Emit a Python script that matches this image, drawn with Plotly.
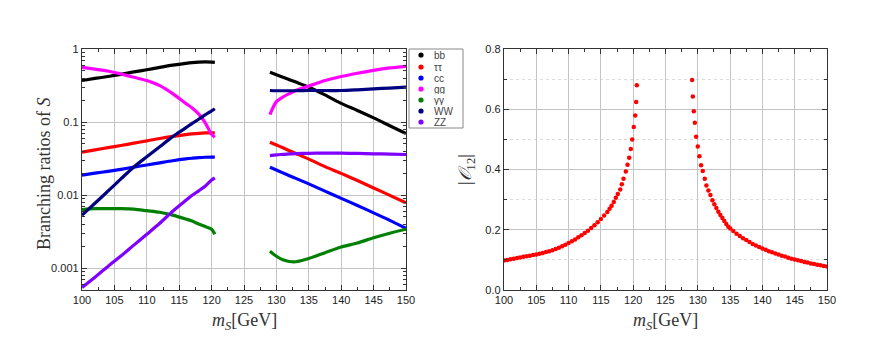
import plotly.graph_objects as go

W, H = 872, 341

# ---------------- data: branching ratios (left panel) ----------------
x_lo = [100, 102, 104, 106, 108, 110, 112, 114, 116, 117, 118, 119, 120, 120.5]
x_hi = [129, 130, 131, 132, 133, 135, 137.5, 140, 142.5, 145, 147.5, 150]

br_names = ["bb", "ττ", "cc", "gg", "γγ", "WW", "ZZ"]
br_colors = ["#000000", "#ff0000", "#0000ff", "#ff00ff", "#008000", "#000080", "#8000ff"]

bb_lo = [0.37, 0.395, 0.42, 0.45, 0.485, 0.52, 0.56, 0.60, 0.635, 0.65, 0.66, 0.665, 0.66, 0.655]
tt_lo = [0.0386, 0.0415, 0.0445, 0.0477, 0.0513, 0.0552, 0.0595, 0.0635, 0.0672, 0.0688, 0.070, 0.0708, 0.071, 0.071]
cc_lo = [0.0187, 0.0199, 0.0211, 0.0225, 0.0241, 0.0258, 0.0276, 0.0295, 0.0312, 0.0319, 0.0325, 0.0329, 0.033, 0.033]
gg_lo = [0.56, 0.53, 0.50, 0.455, 0.41, 0.37, 0.315, 0.245, 0.18, 0.156, 0.129, 0.098, 0.068, 0.062]
yy_lo = [0.0063, 0.0065, 0.0065, 0.0065, 0.0064, 0.0061, 0.0058, 0.0053, 0.0047, 0.0044, 0.0040, 0.0037, 0.0034, 0.0029]
ww_lo = [0.0053, 0.0077, 0.0113, 0.0166, 0.0242, 0.0334, 0.0459, 0.063, 0.083, 0.096, 0.109, 0.125, 0.142, 0.152]
zz_lo = [0.00054, 0.00075, 0.00105, 0.00146, 0.00206, 0.0029, 0.0041, 0.0060, 0.0084, 0.0099, 0.0114, 0.0132, 0.0160, 0.0172]

bb_hi = [0.48, 0.445, 0.41, 0.38, 0.352, 0.30, 0.235, 0.18, 0.144, 0.114, 0.089, 0.0695]
tt_hi = [0.0529, 0.0485, 0.0443, 0.0405, 0.037, 0.031, 0.0245, 0.0198, 0.0158, 0.0125, 0.0099, 0.0078]
cc_hi = [0.024, 0.022, 0.0201, 0.0184, 0.0169, 0.0142, 0.0113, 0.0090, 0.0072, 0.0057, 0.0045, 0.0035]
gg_hi = [0.126, 0.19, 0.22, 0.245, 0.27, 0.31, 0.37, 0.42, 0.465, 0.51, 0.55, 0.58]
yy_hi = [0.0017, 0.00145, 0.0013, 0.00123, 0.00122, 0.00135, 0.00162, 0.00194, 0.0022, 0.0026, 0.0030, 0.0034]
ww_hi = [0.27, 0.268, 0.268, 0.268, 0.268, 0.27, 0.27, 0.27, 0.276, 0.284, 0.292, 0.30]
zz_hi = [0.0347, 0.0355, 0.036, 0.0365, 0.0368, 0.0373, 0.0375, 0.0374, 0.0371, 0.0367, 0.0363, 0.0359]

br_lo = [bb_lo, tt_lo, cc_lo, gg_lo, yy_lo, ww_lo, zz_lo]
br_hi = [bb_hi, tt_hi, cc_hi, gg_hi, yy_hi, ww_hi, zz_hi]

# ---------------- data: |O12| (right panel) ----------------
o_x_lo = [100, 100.5, 101, 101.5, 102, 102.5, 103, 103.5, 104, 104.5, 105, 105.5, 106, 106.5,
          107, 107.5, 108, 108.5, 109, 109.5, 110, 110.5, 111, 111.5, 112, 112.5, 113, 113.5,
          114, 114.5, 115, 115.5,
          115.99, 116.34, 116.65, 117.0, 117.31, 117.62, 117.99, 118.24, 118.5, 118.86,
          119.12, 119.38, 119.63, 119.85, 120.09, 120.31, 120.46, 120.56]
o_y_lo = [0.098, 0.100, 0.102, 0.104, 0.106, 0.108, 0.110, 0.112, 0.114, 0.116, 0.118, 0.120, 0.123, 0.126,
          0.129, 0.132, 0.136, 0.140, 0.145, 0.150, 0.156, 0.162, 0.168, 0.175, 0.182, 0.189, 0.197, 0.206,
          0.215, 0.225, 0.236, 0.247,
          0.259, 0.270, 0.280, 0.292, 0.306, 0.319, 0.334, 0.351, 0.369, 0.393,
          0.416, 0.439, 0.468, 0.500, 0.541, 0.579, 0.624, 0.680]
o_x_hi = [129.12, 129.23, 129.38, 129.54, 129.74, 130.0, 130.25, 130.51, 130.77, 131.08, 131.33,
          131.64, 131.95, 132.26, 132.56, 132.87, 133.18, 133.49, 133.8, 134.1, 134.41, 134.72, 135.03,
          135.5, 136, 136.5, 137, 137.5, 138, 138.5, 139, 139.5, 140, 140.5, 141, 141.5, 142, 142.5,
          143, 143.5, 144, 144.5, 145, 145.5, 146, 146.5, 147, 147.5, 148, 148.5, 149, 149.5, 150]
o_y_hi = [0.697, 0.642, 0.593, 0.555, 0.509, 0.476, 0.444, 0.414, 0.395, 0.369, 0.347,
          0.330, 0.315, 0.298, 0.285, 0.272, 0.260, 0.249, 0.239, 0.229, 0.219, 0.210, 0.204,
          0.196, 0.187, 0.179, 0.172, 0.166, 0.159, 0.153, 0.148, 0.143, 0.138, 0.134, 0.129, 0.125, 0.121, 0.118,
          0.114, 0.111, 0.107, 0.104, 0.101, 0.099, 0.096, 0.093, 0.091, 0.088, 0.086, 0.084, 0.082, 0.080, 0.078]

x_ticks = [100, 105, 110, 115, 120, 125, 130, 135, 140, 145, 150]
y_log_ticks = [0.001, 0.01, 0.1, 1]
y_log_text = ["0.001", "0.01", "0.1", "1"]
y_log_minor = [0.0006, 0.0007, 0.0008, 0.0009,
               0.002, 0.003, 0.004, 0.005, 0.006, 0.007, 0.008, 0.009,
               0.02, 0.03, 0.04, 0.05, 0.06, 0.07, 0.08, 0.09,
               0.2, 0.3, 0.4, 0.5, 0.6, 0.7, 0.8, 0.9]
y_lin_ticks = [0.0, 0.2, 0.4, 0.6, 0.8]

# ---------------- figure ----------------
def px_x(p):
    return p / W

def px_y(p):
    return 1 - p / H

fig = go.Figure()

for name, col, lo, hi in zip(br_names, br_colors, br_lo, br_hi):
    for xs, ys in ((x_lo, lo), (x_hi, hi)):
        fig.add_trace(go.Scatter(x=xs, y=ys, mode="lines",
                                 line=dict(color=col, width=3.2, shape="spline", smoothing=0.8),
                                 showlegend=False, xaxis="x", yaxis="y", hoverinfo="skip"))

for xs, ys in ((o_x_lo, o_y_lo), (o_x_hi, o_y_hi)):
    fig.add_trace(go.Scatter(x=xs, y=ys, mode="markers", marker=dict(color="#ff0000", size=4.5, line=dict(width=0)),
                             showlegend=False, xaxis="x2", yaxis="y2", hoverinfo="skip"))

axis_common = dict(
    showline=True, linecolor="#333333", linewidth=1.3, mirror="allticks",
    ticks="inside", ticklen=5, tickwidth=1, tickcolor="#333333",
    tickfont=dict(family="Liberation Sans, Arial, sans-serif", size=11, color="#222222"),
    showgrid=True, gridcolor="#c4c4c4", gridwidth=1, zeroline=False, automargin=False,
)

top_px, bot_px = 41, 282
ydom = [px_y(bot_px), px_y(top_px)]

fig.update_layout(
    width=W, height=H, margin=dict(l=0, r=0, t=0, b=0, autoexpand=False),
    paper_bgcolor="white", plot_bgcolor="white", showlegend=False,
    xaxis=dict(domain=[px_x(74), px_x(398)], range=[100, 150], tickvals=x_ticks,
               minor=dict(ticks="inside", ticklen=3, dtick=2.5, tick0=100, tickcolor="#333333", showgrid=False),
               anchor="y", **axis_common),
    yaxis=dict(domain=ydom, type="log", range=[-3.301, 0], tickvals=y_log_ticks, ticktext=y_log_text,
               minor=dict(ticks="inside", ticklen=3, tickmode="array", tickvals=y_log_minor,
                          tickcolor="#333333", showgrid=False),
               anchor="x", **axis_common),
    xaxis2=dict(domain=[px_x(496), px_x(819)], range=[100, 150], tickvals=x_ticks,
                minor=dict(ticks="inside", ticklen=3, dtick=2.5, tick0=100, tickcolor="#333333", showgrid=False),
                anchor="y2", **axis_common),
    yaxis2=dict(domain=ydom, range=[0, 0.8], tickvals=y_lin_ticks, tickformat=".1f",
                minor=dict(ticks="inside", ticklen=3, dtick=0.1, tick0=0, tickcolor="#333333",
                           showgrid=True, gridcolor="#dcdcdc", griddash="dot", gridwidth=1),
                anchor="x2", **axis_common),
)

serif = "Liberation Serif, Times New Roman, serif"
ann = [
    dict(x=px_x(36), y=px_y(166), text="Branching ratios of <i>S</i>", textangle=-90,
         font=dict(family=serif, size=18, color="#333333")),
    dict(x=px_x(236), y=px_y(313), text="<i>m</i><sub><i>S</i></sub>[GeV]",
         font=dict(family=serif, size=18, color="#333333")),
    dict(x=px_x(657), y=px_y(313), text="<i>m</i><sub><i>S</i></sub>[GeV]",
         font=dict(family=serif, size=18, color="#333333")),
    dict(x=px_x(458), y=px_y(162), text="|<i>𝒪</i><sub>12</sub>|", textangle=-90,
         font=dict(family=serif, size=18, color="#333333")),
]
for a in ann:
    fig.add_annotation(xref="paper", yref="paper", showarrow=False, xanchor="center", yanchor="middle", **a)

# legend box (drawn manually to match compact spacing)
lx0, lx1, ly0, ly1 = 401, 455, 41, 120
fig.add_shape(type="rect", xref="paper", yref="paper", x0=px_x(lx0), x1=px_x(lx1), y0=px_y(ly1), y1=px_y(ly0),
              line=dict(color="#888888", width=1), fillcolor="white")
row_y = [47, 59, 70, 81, 92, 103, 114]
for name, col, ry in zip(br_names, br_colors, row_y):
    r = 2.6
    fig.add_shape(type="circle", xref="paper", yref="paper", x0=px_x(413 - r), x1=px_x(413 + r),
                  y0=px_y(ry + r), y1=px_y(ry - r), fillcolor=col, line=dict(width=0))
    fig.add_annotation(xref="paper", yref="paper", x=px_x(424), y=px_y(ry), text=name, showarrow=False,
                       xanchor="left", yanchor="middle", height=10,
                       font=dict(family="Liberation Sans, Arial, sans-serif", size=10, color="#444444"))

fig.write_html("out.html")
